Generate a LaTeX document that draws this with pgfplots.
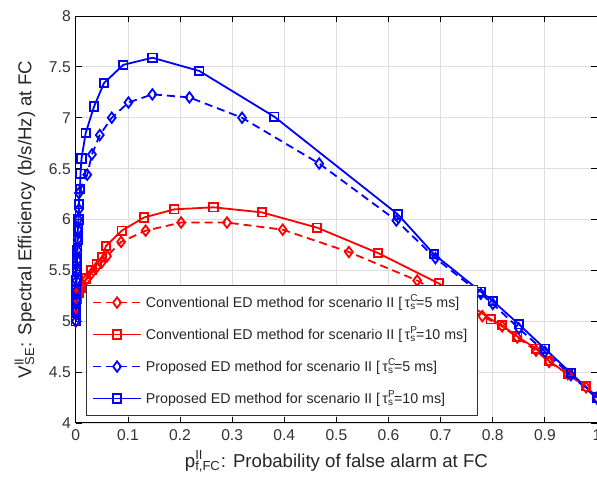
\documentclass[border=0pt]{standalone}
\usepackage{pgfplots}
\pgfplotsset{compat=1.18}
\usepackage{fontspec}
\setmainfont{Liberation Sans}
\definecolor{tickgray}{gray}{0.2}
\definecolor{gridgray}{gray}{0.87}
\newcommand{\tsc}[2]{τ\rlap{\textsuperscript{#1}}\textsubscript{#2}}
\begin{document}
\begin{tikzpicture}[trim axis right]
\begin{axis}[
  width=260pt, height=203pt, scale only axis,
  xmin=0, xmax=1, ymin=4, ymax=8,
  xtick={0,0.1,...,1.0}, ytick={4,4.5,...,8},
  xticklabels={0,0.1,0.2,0.3,0.4,0.5,0.6,0.7,0.8,0.9,1},
  yticklabels={4,4.5,5,5.5,6,6.5,7,7.5,8},
  /pgf/number format/assume math mode=true,
  tick align=inside, major tick length=3pt,
  tick style={black, line width=0.4pt},
  ticklabel style={font=\fontsize{7.8}{9}\selectfont, text=tickgray},
  yticklabel style={xshift=1pt},
  grid=major, grid style={gridgray, line width=0.4pt},
  axis line style={black, line width=0.5pt},
  label style={font=\fontsize{9.3}{11}\selectfont, text=black!85},
  xlabel={p\rlap{\textsuperscript{II}}\textsubscript{f,FC}: Probability of false alarm at FC},
  ylabel={V\rlap{\textsuperscript{II}}\textsubscript{SE}: Spectral Efficiency (b/s/Hz) at FC},
  xlabel style={yshift=2pt},
  legend style={at={(rel axis cs:0.019,0.017)}, anchor=south west,
    font=\fontsize{7.1}{8.5}\selectfont, draw=black!80, line width=0.5pt,
    row sep=4.0pt, inner xsep=3pt, inner ysep=2.5pt, fill=white, text=black!85},
  legend cell align=left,
  legend image code/.code={\draw[mark repeat=2,mark phase=2,#1] plot coordinates {(0cm,0cm)(0.42cm,0cm)(0.84cm,0cm)};},
]
% Conventional 5 ms (red dashed, diamonds)
\addplot[red, line width=0.9pt, dash pattern=on 4pt off 2.5pt, mark=diamond, mark size=2.6pt, mark options={solid}] coordinates {
(0,5.0)(0.001,5.12)(0.003,5.22)(0.006,5.30)(0.011,5.36)(0.02,5.41)(0.03,5.47)(0.04,5.53)(0.05,5.58)(0.06,5.64)(0.087,5.78)(0.134,5.89)(0.202,5.97)(0.29,5.97)(0.397,5.90)(0.524,5.68)(0.655,5.40)(0.78,5.05)(0.818,4.95)(0.847,4.84)(0.883,4.71)(0.908,4.60)(0.944,4.48)(0.979,4.35)(1.0,4.25)};
\addlegendentry{Conventional ED method for scenario II [\,\tsc{C}{s}=5 ms]}
% Conventional 10 ms (red solid, squares)
\addplot[red, line width=0.9pt, solid, mark=square, mark size=2.1pt] coordinates {
(0,5.0)(0.001,5.14)(0.002,5.22)(0.005,5.28)(0.01,5.33)(0.02,5.42)(0.03,5.50)(0.04,5.56)(0.05,5.63)(0.058,5.74)(0.088,5.89)(0.131,6.02)(0.189,6.10)(0.264,6.12)(0.357,6.07)(0.463,5.92)(0.58,5.67)(0.697,5.37)(0.796,5.02)(0.818,4.96)(0.847,4.85)(0.883,4.73)(0.908,4.61)(0.944,4.48)(0.979,4.36)(1.0,4.25)};
\addlegendentry{Conventional ED method for scenario II [\,\tsc{P}{s}=10 ms]}
% Proposed 5 ms (blue dashed, diamonds)
\addplot[blue, line width=0.9pt, dash pattern=on 4pt off 2.5pt, mark=diamond, mark size=2.6pt, mark options={solid}] coordinates {
(0,5.0)(0.0003,5.1)(0.0006,5.2)(0.001,5.3)(0.0015,5.4)(0.002,5.5)(0.0025,5.6)(0.003,5.7)(0.0035,5.8)(0.004,5.9)(0.005,6.0)(0.006,6.1)(0.006,6.26)(0.022,6.44)(0.031,6.64)(0.046,6.83)(0.069,7.00)(0.101,7.15)(0.147,7.23)(0.218,7.20)(0.319,7.00)(0.467,6.55)(0.615,5.99)(0.69,5.62)(0.777,5.27)(0.80,5.17)(0.85,4.93)(0.9,4.70)(0.95,4.47)(1.0,4.24)};
\addlegendentry{Proposed ED method for scenario II [\,\tsc{C}{s}=5 ms]}
% Proposed 10 ms (blue solid, squares)
\addplot[blue, line width=0.9pt, solid, mark=square, mark size=2.1pt] coordinates {
(0,5.0)(0.0003,5.1)(0.0006,5.2)(0.001,5.3)(0.0015,5.4)(0.002,5.5)(0.0025,5.6)(0.003,5.7)(0.0035,5.8)(0.004,5.9)(0.005,6.0)(0.006,6.15)(0.008,6.3)(0.009,6.45)(0.011,6.60)(0.019,6.85)(0.035,7.11)(0.054,7.34)(0.091,7.52)(0.147,7.59)(0.237,7.46)(0.381,7.01)(0.618,6.05)(0.687,5.66)(0.777,5.29)(0.80,5.20)(0.85,4.97)(0.9,4.73)(0.95,4.49)(1.0,4.25)};
\addlegendentry{Proposed ED method for scenario II [\,\tsc{P}{s}=10 ms]}
\end{axis}
\path ([yshift=8pt]current axis.north);
\path ([xshift=-4pt]current bounding box.west);
\end{tikzpicture}
\end{document}
